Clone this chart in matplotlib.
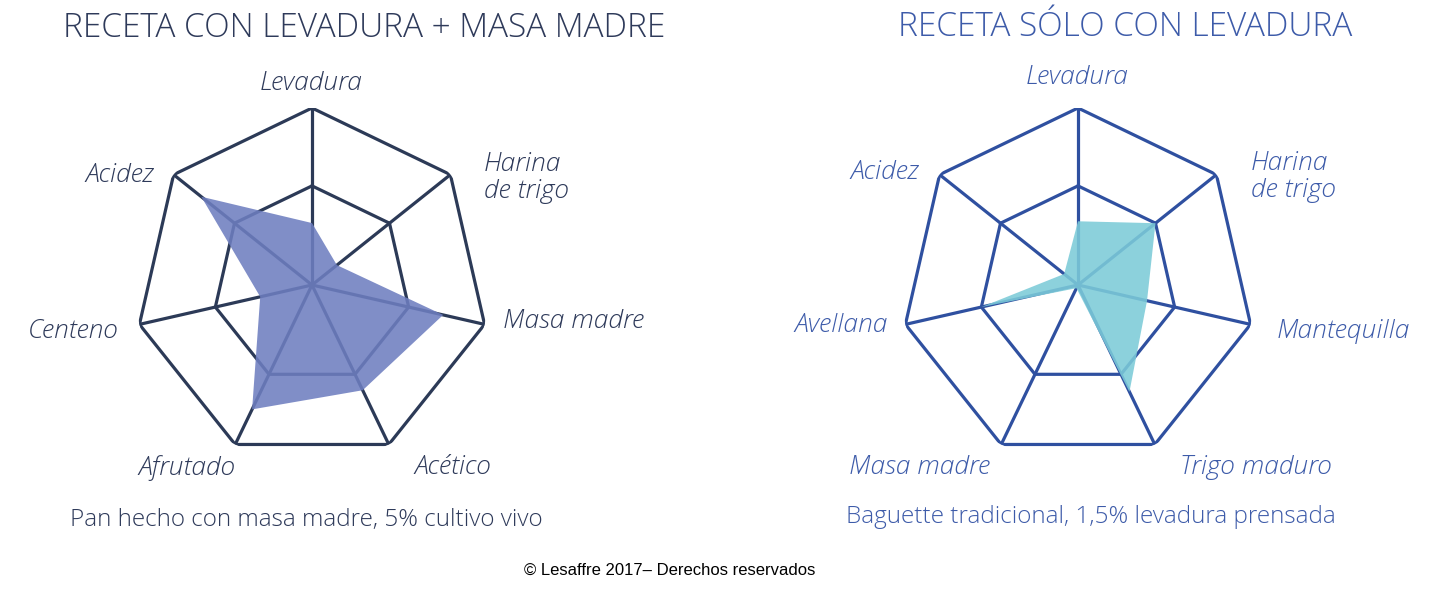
import numpy as np
import matplotlib
matplotlib.use('Agg')
import matplotlib.pyplot as plt

W, H = 1436, 590

# data
left_cats = ['Levadura', 'Harina\nde trigo', 'Masa madre', 'Acético', 'Afrutado', 'Centeno', 'Acidez']
left_vals = [0.35, 0.18, 0.76, 0.66, 0.78, 0.30, 0.80]
right_cats = ['Levadura', 'Harina\nde trigo', 'Mantequilla', 'Trigo maduro', 'Masa madre', 'Avellana', 'Acidez']
right_vals = [0.36, 0.56, 0.40, 0.67, 0.02, 0.56, 0.10]
grid_levels = [0.56, 1.0]

FONT = 'Open Sans'

fig = plt.figure(figsize=(W / 100, H / 100), dpi=100)


def radar(cx, cy, r, vals, grid_col, fill_col):
    ax = fig.add_axes([(cx - r) / W, (H - cy - r) / H, 2 * r / W, 2 * r / H], projection='polar')
    n = len(vals)
    ang = np.linspace(0, 2 * np.pi, n, endpoint=False)
    ax.set_theta_zero_location('N')
    ax.set_theta_direction(-1)
    ax.set_ylim(0, 1)
    ax.axis('off')
    closed = np.append(ang, ang[0])
    for lv in grid_levels:
        ax.plot(closed, [lv] * (n + 1), color=grid_col, lw=2.3, solid_joinstyle='miter', zorder=1)
    for a in ang:
        ax.plot([a, a], [0, 1], color=grid_col, lw=2.3, zorder=1)
    ax.fill(closed, np.append(vals, vals[0]), color=fill_col, alpha=0.88, lw=0, zorder=2)
    return ax


radar(312, 285, 177, left_vals, '#2c3a57', '#6e7ec0')
radar(1078, 285, 177, right_vals, '#2f50a0', '#7ccbd8')

lcol = '#2e3a5a'
rcol = '#3d5ba9'
lab = dict(fontsize=19, style='italic', fontweight=300, family=FONT)

# label positions in pixels (x, y, ha)
left_pos = [(311, 83, 'center'), (484, 178, 'left'), (503, 322, 'left'), (414, 468, 'left'),
            (236, 468, 'right'), (119, 331, 'right'), (154, 175, 'right')]
right_pos = [(1077, 78, 'center'), (1251, 177, 'left'), (1277, 331, 'left'), (1180, 468, 'left'),
             (990, 468, 'right'), (888, 326, 'right'), (919, 172, 'right')]
for cats, pos, col in [(left_cats, left_pos, lcol), (right_cats, right_pos, rcol)]:
    for c, (x, y, ha) in zip(cats, pos):
        fig.text(x / W, 1 - y / H, c, ha=ha, va='center', color=col, linespacing=1.15, **lab)

fig.text(364 / W, 1 - 28 / H, 'RECETA CON LEVADURA + MASA MADRE', ha='center', va='center',
         fontsize=24, fontweight=300, family=FONT, color=lcol)
fig.text(1125 / W, 1 - 27 / H, 'RECETA SÓLO CON LEVADURA', ha='center', va='center',
         fontsize=24, fontweight=300, family=FONT, color=rcol)

fig.text(306 / W, 1 - 520 / H, 'Pan hecho con masa madre, 5% cultivo vivo', ha='center', va='center',
         fontsize=17.5, fontweight=300, family=FONT, color=lcol)
fig.text(1091 / W, 1 - 517 / H, 'Baguette tradicional, 1,5% levadura prensada', ha='center', va='center',
         fontsize=17.5, fontweight=300, family=FONT, color=rcol)
fig.text(670 / W, 1 - 570 / H, '© Lesaffre 2017– Derechos reservados', ha='center', va='center',
         fontsize=12, family='Liberation Sans', color='black')

fig.savefig('out.png', dpi=100)
